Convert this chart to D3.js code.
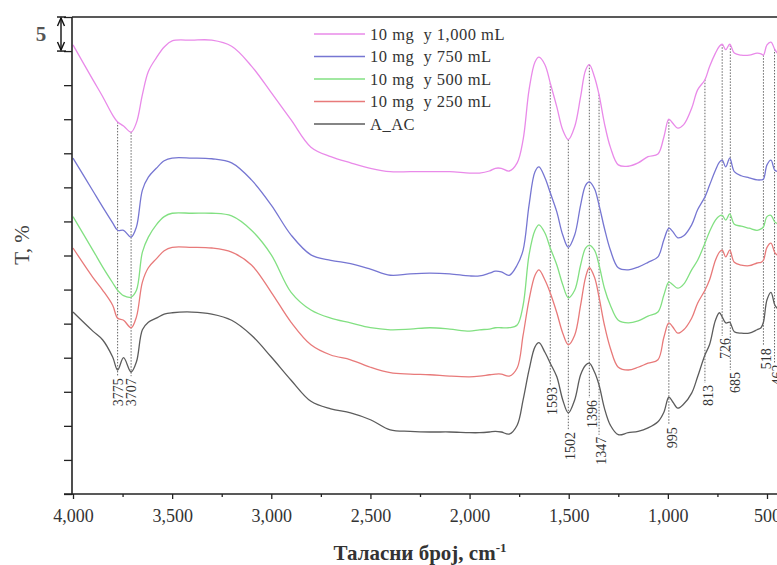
<!DOCTYPE html>
<html>
<head>
<meta charset="utf-8">
<script src="https://cdn.jsdelivr.net/npm/d3@7"></script>
<style>
  html, body { margin: 0; padding: 0; background: #fff; }
  svg { display: block; font-family: "Liberation Serif", "Times New Roman", serif; }
</style>
</head>
<body>
<svg id="chart" width="777" height="565"></svg>
<script>
// FTIR transmittance spectra (stacked), wavenumber in cm-1
const wavenumbers = [4000, 3900, 3850, 3800, 3775, 3745, 3707, 3680, 3650, 3620,
  3580, 3540, 3500, 3400, 3300, 3200, 3100, 3000, 2900, 2800,
  2700, 2600, 2500, 2400, 2300, 2200, 2100, 2000, 1950, 1900,
  1870, 1840, 1800, 1760, 1730, 1700, 1670, 1650, 1620, 1593,
  1560, 1530, 1502, 1470, 1440, 1415, 1396, 1370, 1347, 1320,
  1290, 1250, 1200, 1150, 1100, 1050, 1020, 995, 975, 950,
  920, 880, 850, 813, 790, 760, 740, 726, 708, 688,
  665, 630, 590, 550, 530, 518, 500, 480, 460, 440];

const t1000 = [65.9, 60.8, 58.3, 55.6, 54.6, 54.0, 53.1, 54.5, 58.6, 62.0,
  64.0, 65.6, 66.5, 66.6, 66.6, 65.7, 62.8, 58.9, 54.9, 50.9,
  49.5, 48.6, 47.8, 47.3, 47.3, 47.3, 47.3, 47.1, 47.1, 47.4,
  47.8, 47.8, 47.4, 48.6, 52.0, 59.3, 63.4, 64.1, 63.0, 60.3,
  56.8, 53.4, 52.0, 53.9, 58.3, 62.2, 63.0, 61.2, 58.6, 54.4,
  50.9, 48.3, 48.1, 48.6, 49.5, 49.9, 52.4, 55.0, 54.4, 53.7,
  54.2, 56.6, 59.3, 60.8, 62.7, 64.7, 65.7, 66.0, 65.2, 66.0,
  64.7, 64.4, 64.4, 64.7, 64.6, 64.4, 65.9, 66.3, 65.2, 64.4];

const t750 = [49.3, 44.5, 42.1, 39.8, 38.7, 38.7, 37.7, 39.2, 44.6, 46.5,
  47.8, 48.9, 49.3, 49.3, 49.2, 48.6, 46.1, 42.4, 38.0, 35.1,
  34.3, 33.8, 33.0, 32.1, 32.3, 32.4, 32.3, 32.0, 32.0, 32.4,
  32.7, 32.6, 32.1, 33.6, 35.8, 42.4, 47.3, 48.0, 46.4, 44.2,
  41.4, 38.0, 36.2, 38.0, 42.4, 45.3, 45.8, 44.8, 42.4, 39.0,
  35.8, 33.2, 32.9, 33.3, 34.0, 34.8, 37.3, 39.0, 38.5, 37.6,
  37.9, 39.5, 41.7, 43.6, 45.3, 47.5, 48.7, 49.0, 48.0, 49.3,
  47.3, 46.7, 46.4, 46.1, 46.1, 46.2, 48.3, 49.0, 47.5, 47.3];

const t500 = [40.7, 35.8, 33.3, 31.0, 29.9, 29.1, 28.9, 29.9, 35.5, 37.7,
  39.5, 40.7, 41.2, 41.2, 41.2, 40.8, 38.7, 35.1, 29.6, 27.0,
  25.8, 25.1, 24.4, 24.1, 24.2, 24.4, 24.2, 23.9, 24.1, 24.2,
  24.4, 24.4, 24.4, 24.8, 27.7, 35.1, 38.7, 39.5, 38.3, 36.1,
  33.6, 30.7, 28.8, 29.9, 33.6, 36.1, 36.5, 35.8, 33.6, 30.2,
  27.7, 25.5, 25.1, 25.4, 26.1, 26.7, 29.2, 31.1, 30.7, 30.2,
  30.8, 32.9, 34.3, 36.8, 38.5, 40.2, 40.8, 40.9, 40.2, 41.1,
  39.6, 39.3, 39.0, 38.7, 38.9, 39.2, 40.7, 40.9, 39.9, 39.6];

const t250 = [36.1, 31.8, 29.9, 27.7, 25.8, 25.5, 24.4, 26.0, 31.1, 33.2,
  34.5, 35.7, 36.2, 36.2, 36.1, 35.5, 33.6, 29.6, 25.2, 21.9,
  20.4, 19.7, 18.6, 17.8, 17.6, 17.5, 17.3, 17.2, 17.3, 17.5,
  17.6, 17.6, 17.3, 18.5, 23.3, 28.5, 32.1, 32.9, 31.4, 29.5,
  26.6, 23.6, 21.9, 23.3, 27.7, 31.8, 33.2, 31.8, 28.9, 24.8,
  21.4, 18.6, 18.2, 18.6, 19.2, 19.7, 23.0, 25.1, 24.5, 23.6,
  24.1, 25.8, 28.0, 29.9, 31.4, 34.3, 35.5, 35.8, 34.8, 35.8,
  34.0, 33.6, 33.5, 33.9, 34.0, 34.3, 36.2, 36.8, 35.4, 34.9];

const tAAC = [26.7, 23.9, 22.6, 20.1, 18.2, 20.0, 17.9, 19.4, 24.1, 25.2,
  25.8, 26.4, 26.6, 26.7, 26.4, 25.5, 23.3, 20.1, 16.7, 13.6,
  12.5, 11.9, 10.9, 9.4, 9.2, 9.1, 9.1, 9.0, 9.0, 9.1,
  9.2, 9.1, 8.8, 10.1, 13.8, 18.2, 21.6, 22.2, 20.8, 19.2,
  17.2, 13.8, 11.9, 13.8, 17.5, 18.9, 19.2, 17.9, 16.0, 12.6,
  10.1, 8.7, 9.0, 9.2, 9.7, 10.6, 12.0, 14.2, 13.5, 12.6,
  13.2, 14.8, 17.2, 20.4, 21.9, 25.5, 26.6, 26.0, 25.1, 25.2,
  23.8, 23.6, 23.6, 24.1, 24.4, 25.2, 28.5, 29.6, 27.7, 27.0];

const seriesNames = ["10 mg  у 1,000 mL", "10 mg  у 750 mL", "10 mg  у 500 mL", "10 mg  у 250 mL", "A_AC"];
const seriesColors = ["#e98ae9", "#7676d2", "#82e082", "#e87a7a", "#5c5c5c"];

const xTickValues = [4000, 3500, 3000, 2500, 2000, 1500, 1000, 500];
const xMinorTickValues = [3750, 3250, 2750, 2250, 1750, 1250, 750];

// marked absorption bands and the transmittance level where each label begins
const peakWavenumbers = [3775, 3707, 1593, 1502, 1396, 1347, 995, 813, 726, 685, 518, 462];
const peakLabelTop =    [17.0, 17.0, 15.7, 9.1, 13.8, 8.4, 9.8, 16.0, 22.9, 17.9, 21.4, 19.0];
const peakLabelShift =  [0, 0, 2, 2, 3, 2, 3, 3, 3, 5, 3, 3];

const svg = d3.select("#chart");
const x = d3.scaleLinear().domain([4000, 500]).range([73, 767]);
const y = d3.scaleLinear().domain([0, 70]).range([494, 17]);

const series = [t1000, t750, t500, t250, tAAC].map((vals, i) => ({
  name: seriesNames[i],
  color: seriesColors[i],
  points: wavenumbers.map((w, j) => [w, vals[j]])
}));

// value of the top spectrum at a given wavenumber (linear between readings)
function topValueAt(w) {
  for (let j = 0; j < wavenumbers.length - 1; j++) {
    const a = wavenumbers[j], b = wavenumbers[j + 1];
    if (w <= a && w >= b) {
      const t = (a - w) / (a - b);
      return t1000[j] + t * (t1000[j + 1] - t1000[j]);
    }
  }
  return t1000[t1000.length - 1];
}

// dotted band markers
const marks = svg.append("g");
peakWavenumbers.forEach((w, i) => {
  const px = x(w);
  marks.append("line")
    .attr("x1", px).attr("x2", px)
    .attr("y1", y(topValueAt(w))).attr("y2", y(peakLabelTop[i]) - 2)
    .attr("stroke", "#666").attr("stroke-width", 1)
    .attr("stroke-dasharray", "1.5,1.5");
  const lx = px + peakLabelShift[i];
  const ly = y(peakLabelTop[i]);
  marks.append("text")
    .attr("transform", `translate(${lx},${ly}) rotate(-90)`)
    .attr("text-anchor", "end")
    .attr("dy", "0.35em")
    .attr("font-size", 14)
    .attr("fill", "#333")
    .text(w);
});

// spectra
const line = d3.line()
  .x(d => x(d[0]))
  .y(d => y(d[1]))
  .curve(d3.curveCatmullRom.alpha(0.5));

svg.append("g").selectAll("path")
  .data(series.slice().reverse())
  .join("path")
  .attr("d", d => line(d.points))
  .attr("fill", "none")
  .attr("stroke", d => d.color)
  .attr("stroke-width", 1.3);

// axes
const axisColor = "#222";
const bottom = svg.append("g").attr("transform", "translate(0,494)");
bottom.call(d3.axisBottom(x).tickValues(xTickValues).tickFormat(d3.format(",")).tickSize(5).tickSizeOuter(0));
bottom.select(".domain").remove();
bottom.selectAll(".tick line").attr("stroke", axisColor).attr("stroke-width", 1.3);
bottom.selectAll(".tick text")
  .attr("font-family", "Liberation Serif, serif")
  .attr("font-size", 18).attr("fill", "#333").attr("dy", "1.1em");

const minor = svg.append("g").attr("transform", "translate(0,494)");
minor.call(d3.axisBottom(x).tickValues(xMinorTickValues).tickFormat("").tickSize(3).tickSizeOuter(0));
minor.select(".domain").remove();
minor.selectAll(".tick line").attr("stroke", axisColor).attr("stroke-width", 1.3);

const left = svg.append("g").attr("transform", "translate(72,0)");
left.call(d3.axisLeft(y).tickValues(d3.range(0, 71, 5)).tickFormat("").tickSize(8).tickSizeOuter(0));
left.select(".domain").remove();
left.selectAll(".tick line").attr("stroke", axisColor).attr("stroke-width", 1.3);

svg.append("line").attr("x1", 72).attr("x2", 72).attr("y1", y(70)).attr("y2", y(0) + 1)
  .attr("stroke", axisColor).attr("stroke-width", 1.6);
svg.append("line").attr("x1", 64).attr("x2", 777).attr("y1", y(0)).attr("y2", y(0))
  .attr("stroke", axisColor).attr("stroke-width", 1.6);
svg.append("line").attr("x1", 72).attr("x2", 777).attr("y1", y(70)).attr("y2", y(70))
  .attr("stroke", axisColor).attr("stroke-width", 1.6);

// 5 % scale bar
const sb = svg.append("g");
const sbTop = y(70), sbBot = y(65);
sb.append("line").attr("x1", 61).attr("x2", 61).attr("y1", sbTop + 1).attr("y2", sbBot - 1)
  .attr("stroke", "#111").attr("stroke-width", 1.4);
[sbTop, sbBot].forEach((yy, k) => {
  sb.append("line").attr("x1", 57).attr("x2", 66).attr("y1", yy).attr("y2", yy)
    .attr("stroke", "#111").attr("stroke-width", 1.4);
  const dir = k === 0 ? 1 : -1;
  sb.append("path")
    .attr("d", `M57.5,${yy + dir * 9} L61,${yy + dir * 1} L64.5,${yy + dir * 9}`)
    .attr("fill", "none").attr("stroke", "#111").attr("stroke-width", 1.4);
});
sb.append("text").attr("x", 41).attr("y", y(67.5)).attr("dy", "0.35em")
  .attr("text-anchor", "middle").attr("font-size", 21).attr("font-weight", "bold")
  .attr("fill", "#555").text("5");

// axis titles
svg.append("text")
  .attr("transform", `translate(22,${245}) rotate(-90)`)
  .attr("text-anchor", "middle").attr("dy", "0.35em")
  .attr("font-size", 21).attr("fill", "#444").text("T, %");

const xt = svg.append("text")
  .attr("x", 420).attr("y", 560)
  .attr("text-anchor", "middle")
  .attr("font-size", 21).attr("font-weight", "bold").attr("fill", "#333");
xt.append("tspan").text("Таласни број, cm");
xt.append("tspan").attr("font-size", 13).attr("dy", -8).text("-1");

// legend
const legend = svg.append("g");
series.forEach((s, i) => {
  const ly = 34 + i * 22.5;
  legend.append("line").attr("x1", 314).attr("x2", 365).attr("y1", ly).attr("y2", ly)
    .attr("stroke", s.color).attr("stroke-width", 1.4);
  legend.append("text").attr("x", 370).attr("y", ly).attr("dy", "0.35em")
    .attr("font-size", 16.5).attr("letter-spacing", 0.5).attr("fill", "#333")
    .style("white-space", "pre")
    .text(s.name);
});
</script>
</body>
</html>
